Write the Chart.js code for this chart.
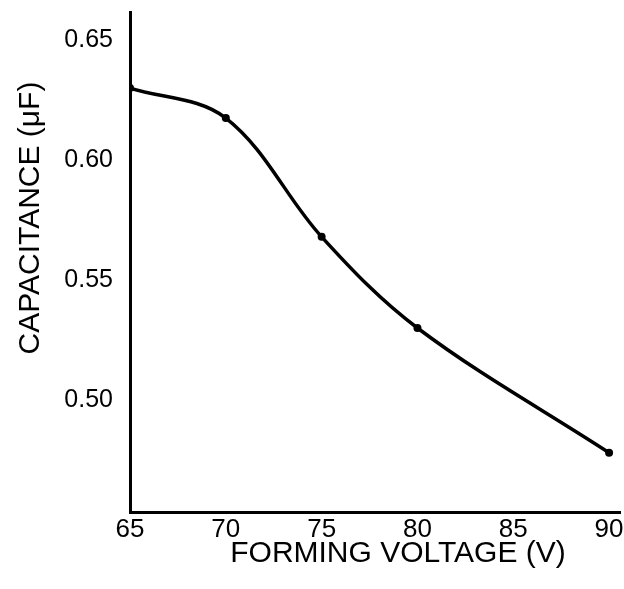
<!DOCTYPE html>
<html>
<head>
<meta charset="utf-8">
<script src="https://cdn.jsdelivr.net/npm/chart.js@4"></script>
<style>
html,body{margin:0;padding:0;background:#fff;}
#wrap{width:624px;height:589px;}
</style>
</head>
<body>
<div id="wrap"><canvas id="c" width="624" height="589"></canvas></div>
<script>
const voltages = [65, 70, 75, 80, 90];
const capacitance = [0.630, 0.6175, 0.568, 0.530, 0.478];
const xTicks = [65, 70, 75, 80, 85, 90];
const yTicks = [0.50, 0.55, 0.60, 0.65];
const xTitle = 'FORMING VOLTAGE (V)';
const yTitle = 'CAPACITANCE (\u03BCF)';

const FONT = '"Liberation Sans", Arial, Helvetica, sans-serif';

const titlePlugin = {
  id: 'titles',
  afterDraw(chart) {
    const ctx = chart.ctx;
    ctx.save();
    ctx.fillStyle = '#000';
    ctx.textAlign = 'center';
    ctx.textBaseline = 'middle';
    ctx.font = '30px ' + FONT;
    ctx.fillText(xTitle, 398, 554);
    ctx.font = '30px ' + FONT;
    ctx.translate(31, 218);
    ctx.rotate(-Math.PI / 2);
    ctx.fillText(yTitle, 0, 0);
    ctx.restore();
  }
};

new Chart(document.getElementById('c'), {
  type: 'line',
  data: {
    datasets: [{
      data: voltages.map((v, i) => ({x: v, y: capacitance[i]})),
      borderColor: '#000',
      backgroundColor: '#000',
      borderWidth: 3.5,
      pointRadius: 4,
      pointBorderWidth: 0,
      tension: 0.35,
      fill: false
    }]
  },
  options: {
    responsive: false,
    animation: false,
    layout: {padding: {top: 12, right: 1, left: 0, bottom: 0}},
    plugins: {legend: {display: false}, tooltip: {enabled: false}},
    scales: {
      x: {
        type: 'linear',
        min: 65,
        max: 90.57,
        afterBuildTicks(s) { s.ticks = xTicks.map(v => ({value: v})); },
        afterFit(s) { s.height = 77; s.paddingLeft = 0; s.paddingRight = 0; },
        grid: {display: false, drawTicks: false},
        border: {display: true, color: '#000', width: 3},
        ticks: {color: '#000', font: {family: FONT, size: 26}, padding: 2, maxRotation: 0, callback: v => String(v)}
      },
      y: {
        type: 'linear',
        min: 0.4533,
        max: 0.6617,
        afterBuildTicks(s) { s.ticks = yTicks.map(v => ({value: v})); },
        afterFit(s) { s.width = 130; s.paddingTop = 0; s.paddingBottom = 0; },
        grid: {display: false, drawTicks: false},
        border: {display: true, color: '#000', width: 3},
        ticks: {color: '#000', font: {family: FONT, size: 25}, padding: 17, callback: v => Number(v).toFixed(2)}
      }
    }
  },
  plugins: [titlePlugin]
});
</script>
</body>
</html>
